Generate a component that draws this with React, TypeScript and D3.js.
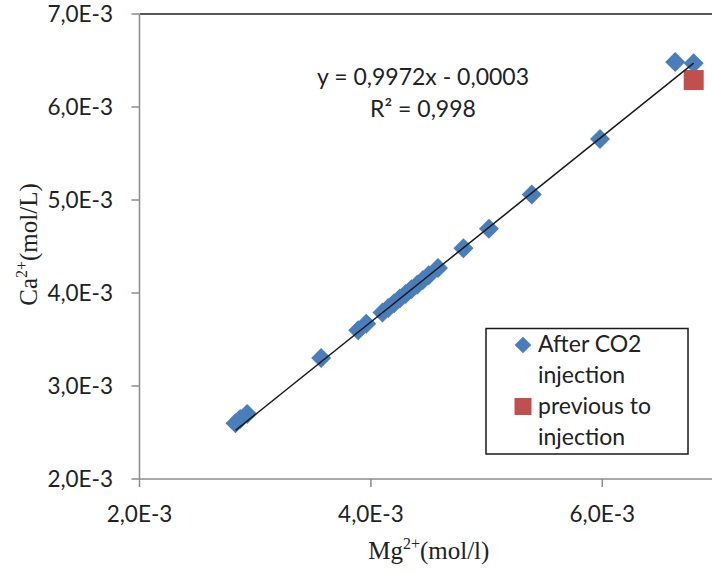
import React from "react";
import * as d3 from "d3";

const afterMg = [2.83, 2.87, 2.93, 3.57, 3.89, 3.96, 4.10, 4.15, 4.20, 4.25, 4.30, 4.35, 4.40, 4.45, 4.50, 4.58, 4.80, 5.02, 5.39, 5.98, 6.63, 6.79].map((v) => v * 1e-3);
const afterCa = [2.60, 2.645, 2.70, 3.30, 3.60, 3.67, 3.79, 3.84, 3.89, 3.94, 3.99, 4.04, 4.09, 4.14, 4.19, 4.27, 4.48, 4.69, 5.06, 5.655, 6.485, 6.47].map((v) => v * 1e-3);
const prevMg = [6.79e-3];
const prevCa = [6.29e-3];
const xTicks = [2e-3, 4e-3, 6e-3];
const yTicks = [2e-3, 3e-3, 4e-3, 5e-3, 6e-3, 7e-3];
const trendSlope = 0.9972;
const trendIntercept = -0.0003;
const equationText = "y = 0,9972x - 0,0003";
const r2Text = "R² = 0,998";
const legendLabels = [["After CO2", "injection"], ["previous to", "injection"]];

const W = 712;
const H = 574;
const left = 139.5;
const right = 718;
const top = 14;
const bottom = 479;

const BLUE = "#4a7ebb";
const RED = "#c0504d";
const SANS = "Lato, 'Open Sans', sans-serif";
const SERIF = "'Liberation Serif', 'Times New Roman', serif";

const fmt = (v: number) => (v * 1e3).toFixed(1).replace(".", ",") + "E-3";

export default function App() {
  const x = d3.scaleLinear().domain([2e-3, 7e-3]).range([left, right]);
  const y = d3.scaleLinear().domain([2e-3, 7e-3]).range([bottom, top]);
  const diamond = d3.symbol().type(d3.symbolSquare).size(200)();
  const square = d3.symbol().type(d3.symbolSquare).size(400)();
  const legDiamond = d3.symbol().type(d3.symbolSquare).size(140)();
  const legSquare = d3.symbol().type(d3.symbolSquare).size(289)();
  const [xmin, xmax] = d3.extent(afterMg) as [number, number];
  const line = d3.line<number>().x((d) => x(d)).y((d) => y(trendSlope * d + trendIntercept));

  return (
    <svg width={W} height={H} style={{ position: "absolute", left: 0, top: 0, background: "#fff" }}>
      <rect x={0} y={0} width={W} height={H} fill="#fff" />
      <line x1={left} x2={W} y1={top} y2={top} stroke="#231f20" strokeWidth={1.6} />
      <line x1={left} x2={left} y1={top} y2={bottom} stroke="#8c8c8c" strokeWidth={1.5} />
      <line x1={left} x2={W} y1={bottom} y2={bottom} stroke="#8c8c8c" strokeWidth={1.5} />
      {yTicks.map((t) => (
        <g key={"y" + t}>
          <line x1={left - 8} x2={left} y1={y(t)} y2={y(t)} stroke="#8c8c8c" strokeWidth={1.5} />
          <text x={113} y={y(t)} dy="0.35em" textAnchor="end" fontFamily={SANS} fontSize={22.5} fill="#222">
            {fmt(t)}
          </text>
        </g>
      ))}
      {xTicks.map((t) => (
        <g key={"x" + t}>
          <line x1={x(t)} x2={x(t)} y1={bottom} y2={bottom + 8} stroke="#8c8c8c" strokeWidth={1.5} />
          <text x={x(t)} y={521.5} textAnchor="middle" fontFamily={SANS} fontSize={22.5} fill="#222">
            {fmt(t)}
          </text>
        </g>
      ))}
      <text x={428.8} y={559} textAnchor="middle" fontFamily={SERIF} fontSize={25} fill="#222">
        Mg<tspan fontSize={16} dy={-10}>2+</tspan><tspan dy={10}>(mol/l)</tspan>
      </text>
      <text transform={`translate(37,${(top + bottom) / 2 - 2}) rotate(-90)`} textAnchor="middle" fontFamily={SERIF} fontSize={25} fill="#222">
        Ca<tspan fontSize={16} dy={-10}>2+</tspan><tspan dy={10}>(mol/L)</tspan>
      </text>
      {afterMg.map((m, i) => (
        <path key={"a" + i} d={diamond} transform={`translate(${x(m)},${y(afterCa[i])}) rotate(45)`} fill={BLUE} />
      ))}
      {prevMg.map((m, i) => (
        <path key={"p" + i} d={square} transform={`translate(${x(m)},${y(prevCa[i])})`} fill={RED} />
      ))}
      <path d={line([xmin, xmax]) || ""} stroke="#1a1a1a" strokeWidth={1.5} fill="none" />
      <text x={423} y={85} textAnchor="middle" fontFamily={SANS} fontSize={23} fill="#222">{equationText}</text>
      <text x={423} y={117} textAnchor="middle" fontFamily={SANS} fontSize={23} fill="#222">{r2Text}</text>
      <rect x={486} y={328.5} width={202} height={125.5} fill="#fff" stroke="#1a1a1a" strokeWidth={1.5} />
      <path d={legDiamond} transform="translate(523,345) rotate(45)" fill={BLUE} />
      <path d={legSquare} transform="translate(523,406.5)" fill={RED} />
      {legendLabels.flat().map((s, i) => (
        <text key={"l" + i} x={538} y={352 + i * 31} fontFamily={SANS} fontSize={23} fill="#222">{s}</text>
      ))}
    </svg>
  );
}
